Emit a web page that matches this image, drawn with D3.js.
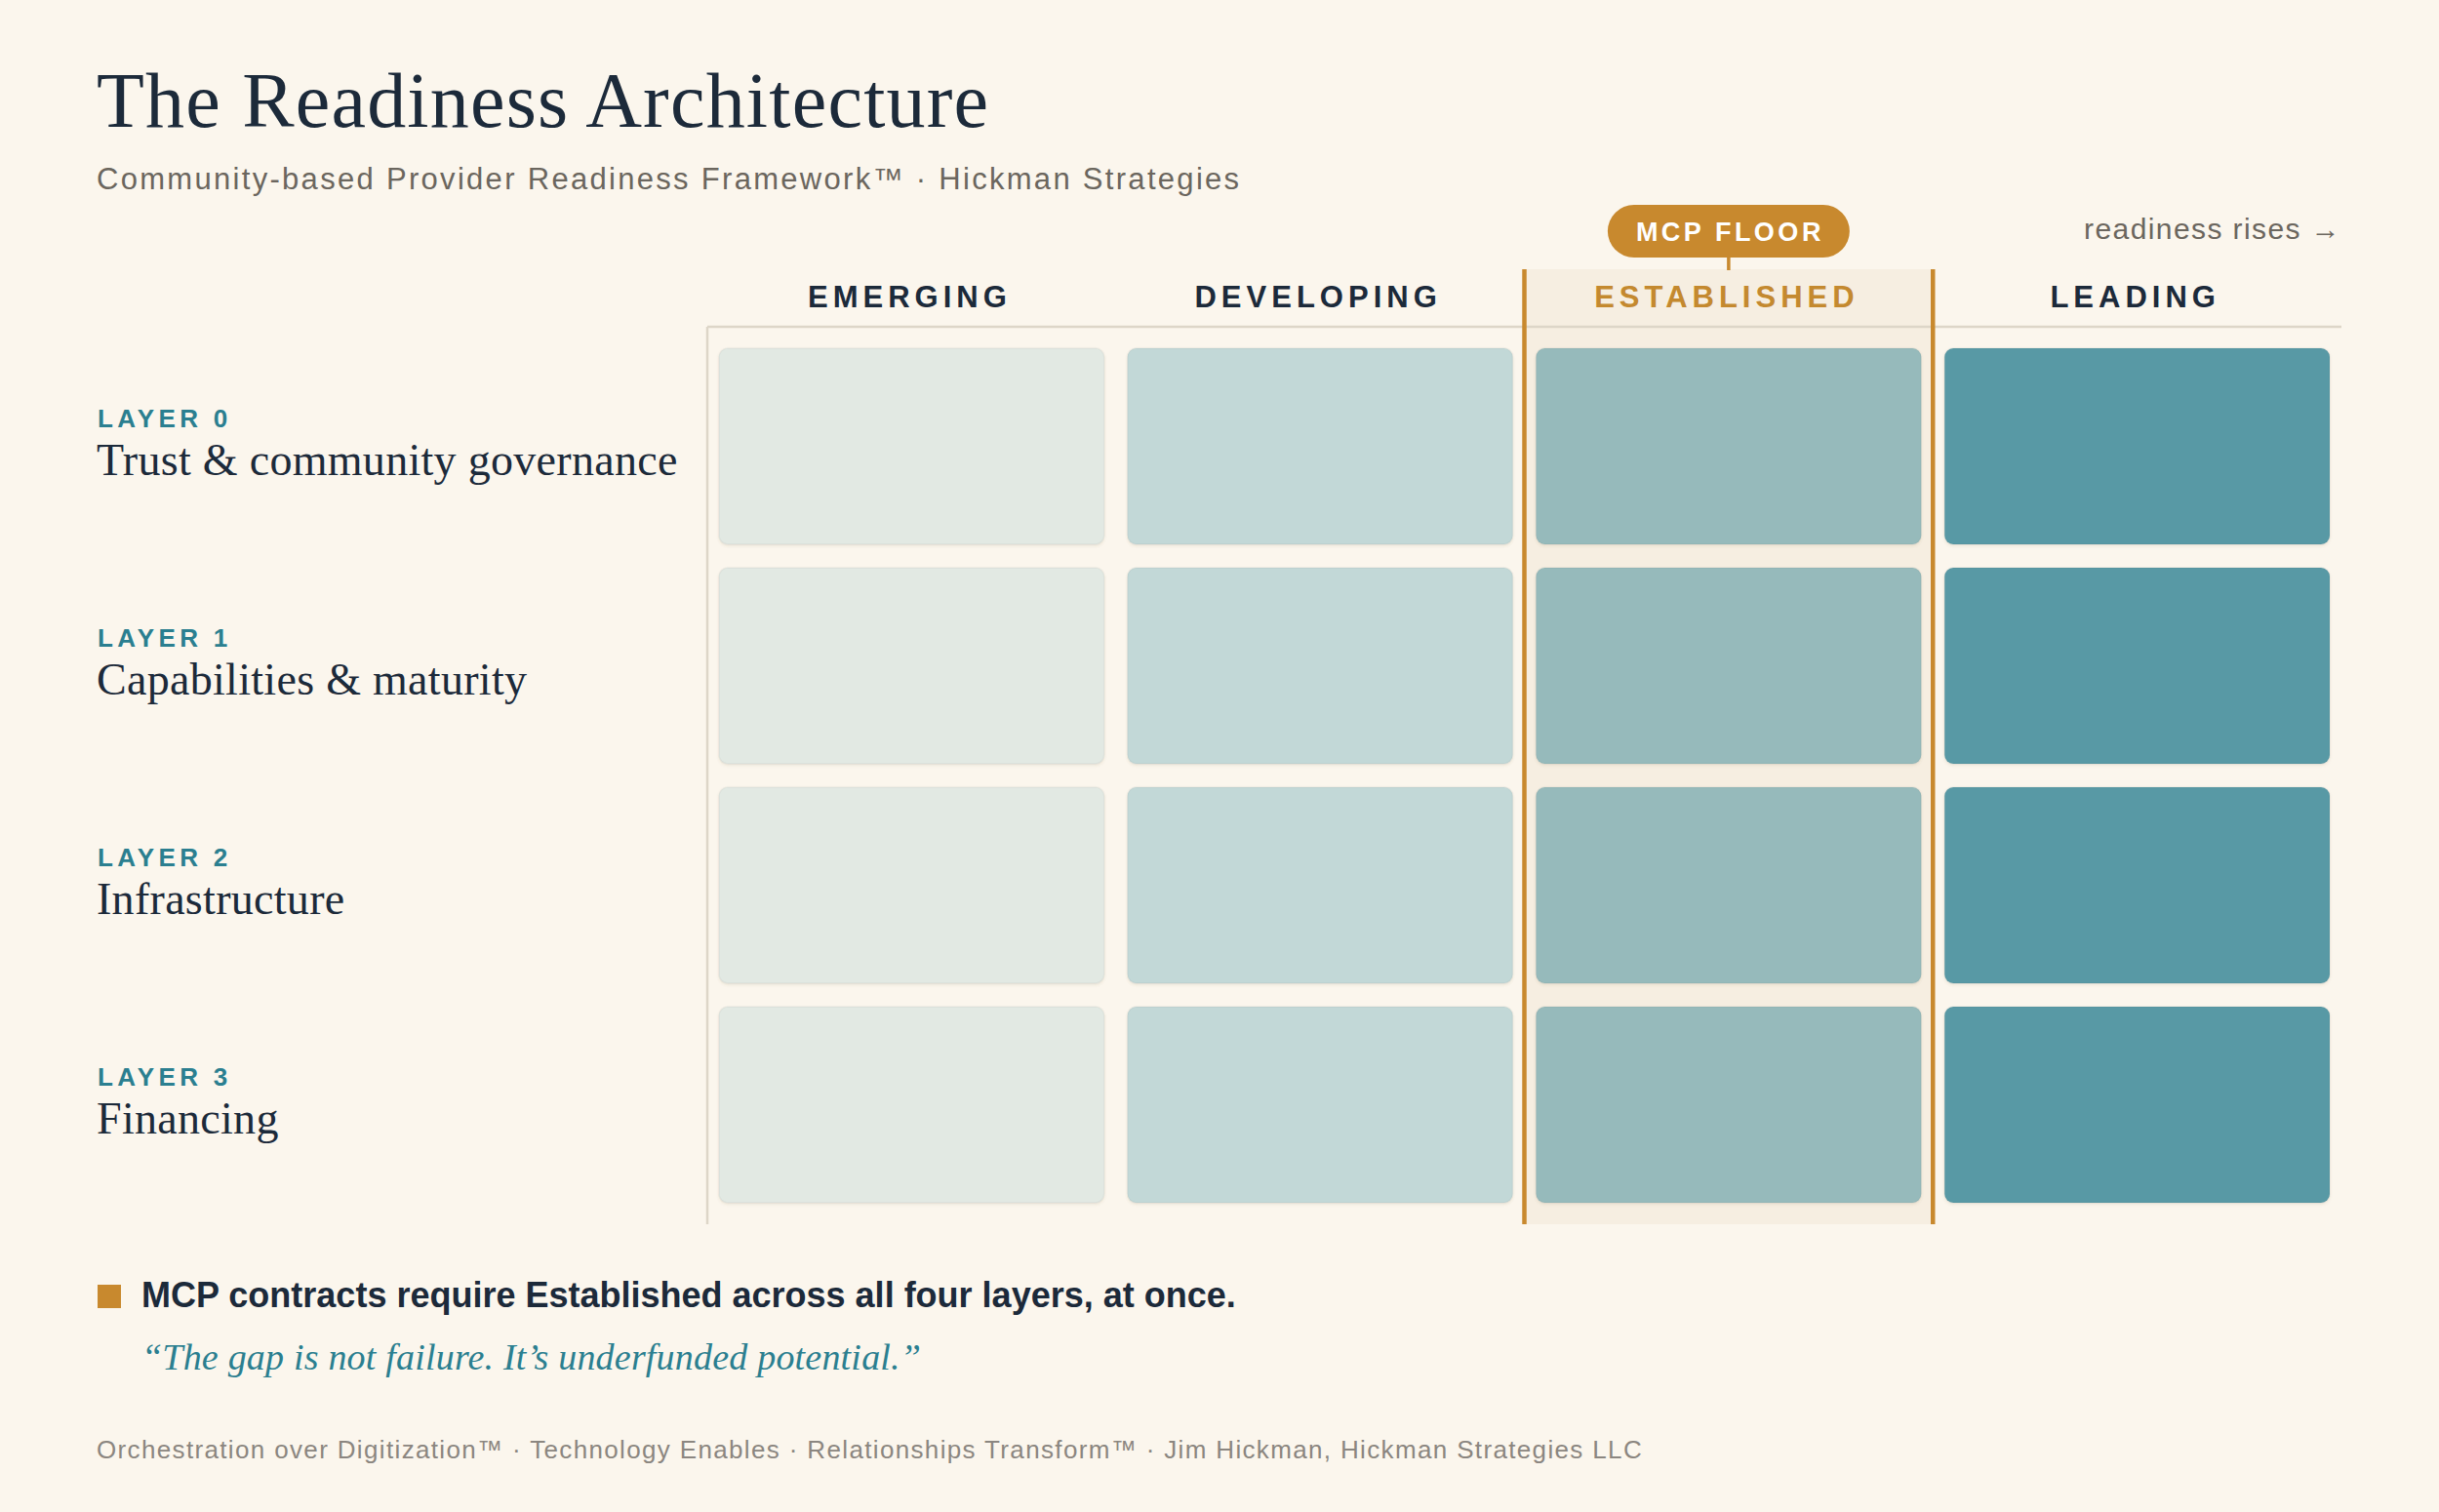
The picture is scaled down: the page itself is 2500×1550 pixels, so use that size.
<!DOCTYPE html>
<html>
<head>
<meta charset="utf-8">
<script src="https://cdn.jsdelivr.net/npm/d3@7"></script>
<style>
  html, body { margin: 0; padding: 0; background: #fbf6ed; }
  svg { display: block; }
</style>
</head>
<body>
<svg id="chart"></svg>
<script>
// readiness stages (columns) and layers (rows)
var stages = ["EMERGING", "DEVELOPING", "ESTABLISHED", "LEADING"];
var stageColors = ["#e2e9e3", "#c2d8d7", "#96babb", "#5899a5"];
var layerIds = ["LAYER 0", "LAYER 1", "LAYER 2", "LAYER 3"];
var layerNames = ["Trust & community governance", "Capabilities & maturity", "Infrastructure", "Financing"];
var floorStage = "ESTABLISHED";

var width = 2500;
var height = 1550;
var left = 99;

var cells = [];
layerIds.forEach(function (l) {
  stages.forEach(function (s) { cells.push({ layer: l, stage: s }); });
});

var xScale = d3.scaleBand().domain(stages).range([725, 2400]);
var yScale = d3.scaleBand().domain(layerIds).range([345, 1245]);
var colorScale = d3.scaleOrdinal().domain(stages).range(stageColors);

var svg = d3.select('#chart')
    .attr('width', width)
    .attr('height', height);

svg.append('rect')
    .attr('width', width)
    .attr('height', height)
    .attr('fill', '#fbf6ed');

var defs = svg.append('defs');
var shadow = defs.append('filter').attr('id', 'shadow')
    .attr('x', '-5%').attr('y', '-5%').attr('width', '110%').attr('height', '115%');
shadow.append('feDropShadow')
    .attr('dx', 0).attr('dy', 1.5)
    .attr('stdDeviation', 1.5)
    .attr('flood-color', '#6b5a3a')
    .attr('flood-opacity', 0.12);

// title block
svg.append('text')
    .attr('x', left)
    .attr('y', 130)
    .style('font-family', '"Liberation Serif", serif')
    .style('font-size', '80px')
    .style('letter-spacing', '1.2px')
    .attr('fill', '#1c2a3a')
    .text('The Readiness Architecture');

svg.append('text')
    .attr('x', left)
    .attr('y', 194)
    .style('font-family', '"Liberation Sans", sans-serif')
    .style('font-size', '31px')
    .style('letter-spacing', '2.3px')
    .attr('fill', '#6b665e')
    .text('Community-based Provider Readiness Framework\u2122 \u00b7 Hickman Strategies');

// highlighted floor column
var fx = xScale(floorStage);
var fw = xScale.bandwidth();

svg.append('rect')
    .attr('x', fx)
    .attr('y', 276)
    .attr('width', fw)
    .attr('height', 1255 - 276)
    .attr('fill', '#f6eee1');

// grid frame
svg.append('line')
    .attr('x1', 725).attr('x2', 2400)
    .attr('y1', 335).attr('y2', 335)
    .attr('stroke', '#ddd6c8')
    .attr('stroke-width', 2.5);

svg.append('line')
    .attr('x1', 725).attr('x2', 725)
    .attr('y1', 335).attr('y2', 1255)
    .attr('stroke', '#ddd6c8')
    .attr('stroke-width', 2.5);

// column headers
svg.append('g')
  .selectAll('text')
    .data(stages)
    .enter()
    .append('text')
      .attr('x', d => xScale(d) + xScale.bandwidth() / 2 - 2)
      .attr('y', 315)
      .style('text-anchor', 'middle')
      .style('font-family', '"Liberation Sans", sans-serif')
      .style('font-weight', 'bold')
      .style('font-size', '31px')
      .style('letter-spacing', '5px')
      .attr('fill', d => d === floorStage ? '#c4892f' : '#1c2a3a')
      .text(d => d);

// cells
svg.append('g')
  .selectAll('rect')
    .data(cells)
    .enter()
    .append('rect')
      .attr('x', d => xScale(d.stage) + 12)
      .attr('y', d => yScale(d.layer) + 12)
      .attr('width', xScale.bandwidth() - 24)
      .attr('height', yScale.bandwidth() - 24)
      .attr('rx', 9)
      .attr('fill', d => colorScale(d.stage))
      .attr('stroke', 'rgba(60,80,80,0.06)')
      .attr('stroke-width', 1.5)
      .attr('filter', 'url(#shadow)');

// floor column edges
[fx, fx + fw].forEach(function (x) {
  svg.append('line')
      .attr('x1', x).attr('x2', x)
      .attr('y1', 276).attr('y2', 1255)
      .attr('stroke', '#c8892e')
      .attr('stroke-width', 4.5);
});

// MCP FLOOR pill
var pillW = 248, pillH = 54;
var pcx = fx + fw / 2;
svg.append('line')
    .attr('x1', pcx).attr('x2', pcx)
    .attr('y1', 262).attr('y2', 277)
    .attr('stroke', '#c8892e')
    .attr('stroke-width', 3.5);

svg.append('rect')
    .attr('x', pcx - pillW / 2)
    .attr('y', 210)
    .attr('width', pillW)
    .attr('height', pillH)
    .attr('rx', pillH / 2)
    .attr('fill', '#c8892e');

svg.append('text')
    .attr('x', pcx + 1.5)
    .attr('y', 247)
    .style('text-anchor', 'middle')
    .style('font-family', '"Liberation Sans", sans-serif')
    .style('font-weight', 'bold')
    .style('font-size', '27px')
    .style('letter-spacing', '3.5px')
    .attr('fill', '#ffffff')
    .text('MCP FLOOR');

svg.append('text')
    .attr('x', 2400)
    .attr('y', 245)
    .style('text-anchor', 'end')
    .style('font-family', '"Liberation Sans", sans-serif')
    .style('font-size', '30px')
    .style('letter-spacing', '1.4px')
    .attr('fill', '#6b665e')
    .text('readiness rises \u2192');

// row labels
var rows = svg.append('g')
  .selectAll('g')
    .data(layerIds)
    .enter()
    .append('g')
      .attr('transform', d => `translate(${left},${yScale(d) + yScale.bandwidth() / 2})`);

rows.append('text')
    .attr('x', 1)
    .attr('y', -19.5)
    .style('font-family', '"Liberation Sans", sans-serif')
    .style('font-weight', 'bold')
    .style('font-size', '26px')
    .style('letter-spacing', '4.3px')
    .attr('fill', '#2b7f90')
    .text(d => d);

rows.append('text')
    .attr('y', 29.5)
    .style('font-family', '"Liberation Serif", serif')
    .style('font-size', '46px')
    .style('letter-spacing', '0.3px')
    .attr('fill', '#1c2a3a')
    .text((d, i) => layerNames[i]);

// note and quote
svg.append('rect')
    .attr('x', 100)
    .attr('y', 1317)
    .attr('width', 24)
    .attr('height', 24)
    .attr('fill', '#c8892e');

svg.append('text')
    .attr('x', 145)
    .attr('y', 1340)
    .style('font-family', '"Liberation Sans", sans-serif')
    .style('font-weight', 'bold')
    .style('font-size', '36px')
    .attr('fill', '#1c2a3a')
    .text('MCP contracts require Established across all four layers, at once.');

svg.append('text')
    .attr('x', 145)
    .attr('y', 1404)
    .style('font-family', '"Liberation Serif", serif')
    .style('font-style', 'italic')
    .style('font-size', '38px')
    .style('letter-spacing', '0.2px')
    .attr('fill', '#2b7f90')
    .text('\u201cThe gap is not failure. It\u2019s underfunded potential.\u201d');

svg.append('text')
    .attr('x', left)
    .attr('y', 1495)
    .style('font-family', '"Liberation Sans", sans-serif')
    .style('font-size', '26px')
    .style('letter-spacing', '1.35px')
    .attr('fill', '#8b8680')
    .text('Orchestration over Digitization\u2122 \u00b7 Technology Enables \u00b7 Relationships Transform\u2122 \u00b7 Jim Hickman, Hickman Strategies LLC');
</script>
</body>
</html>
